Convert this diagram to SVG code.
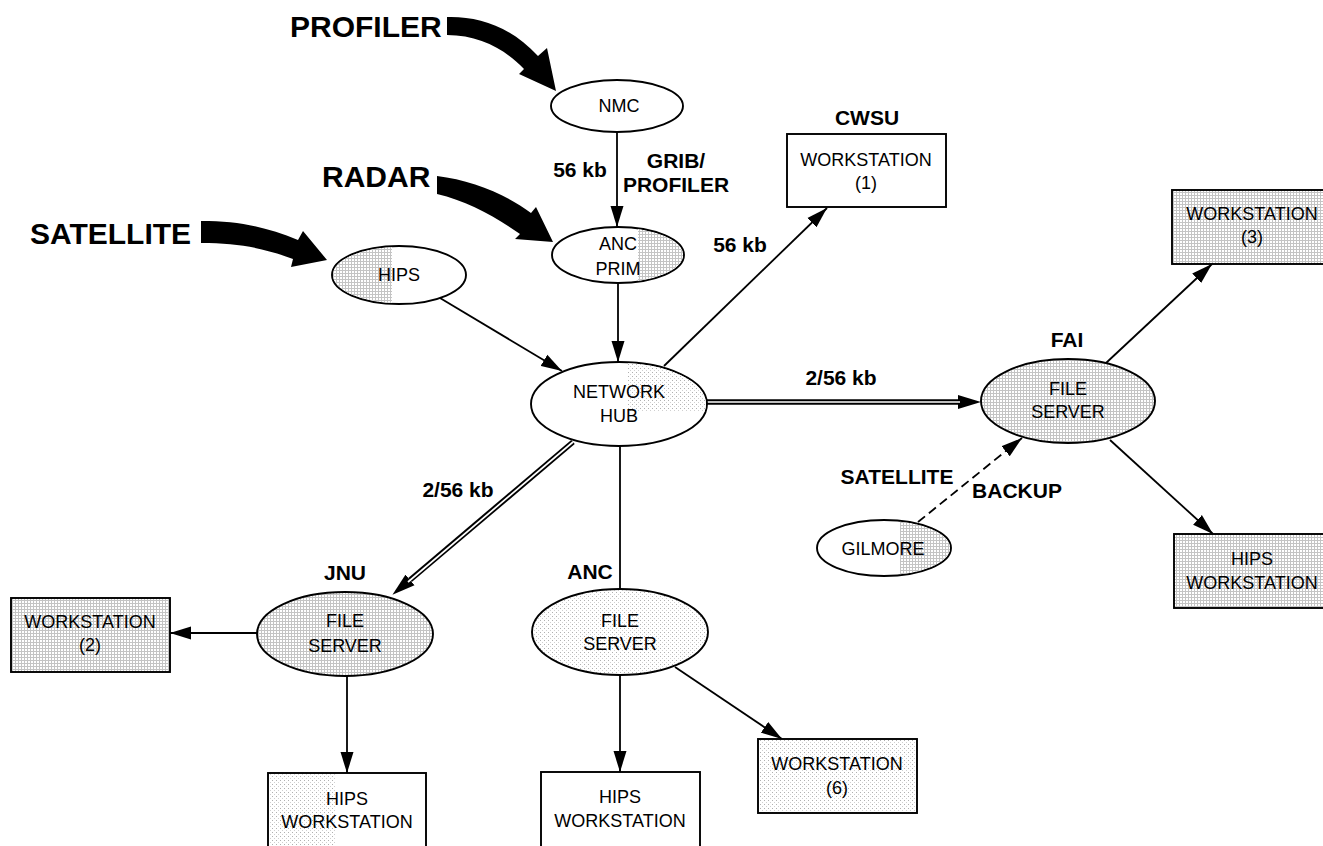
<svg xmlns="http://www.w3.org/2000/svg" width="1323" height="846" viewBox="0 0 1323 846">
<style>
  .nd { stroke:#000; stroke-width:1.9; fill:#fff; }
  .sh { fill:url(#dots); }
  .shl { fill:url(#dotsL); }
  .lbl { font-family:"Liberation Sans", Arial, sans-serif; font-size:18px; text-anchor:middle; fill:#000; }
  .bl { font-family:"Liberation Sans", Arial, sans-serif; font-size:21px; font-weight:bold; text-anchor:middle; fill:#000; }
  .big { font-family:"Liberation Sans", Arial, sans-serif; font-size:30px; font-weight:bold; fill:#000; }
  .cn { stroke:#000; stroke-width:1.8; fill:none; }
  .dbl { stroke:#000; stroke-width:5.5; fill:none; }
  .dblw { stroke:#fff; stroke-width:1.7; fill:none; }
</style>
<defs>
  <pattern id="dots" width="3" height="3" patternUnits="userSpaceOnUse">
    <rect width="3" height="3" fill="#fff"/>
    <rect width="3" height="1" fill="#c4c4c4"/>
    <rect width="1" height="3" fill="#c4c4c4"/>
  </pattern>
  <pattern id="dotsL" width="4" height="4" patternUnits="userSpaceOnUse">
    <rect width="4" height="4" fill="#fff"/>
    <rect width="1" height="1" fill="#b0b0b0"/>
    <rect x="2" y="2" width="1" height="1" fill="#d0d0d0"/>
  </pattern>
  <marker id="ah" markerUnits="userSpaceOnUse" markerWidth="22" markerHeight="14" refX="21" refY="7" orient="auto" viewBox="0 0 22 14">
    <path d="M0,0.5 L21,7 L0,13.5 z" fill="#000"/>
  </marker>
  <marker id="ahd" markerUnits="userSpaceOnUse" markerWidth="24" markerHeight="15" refX="0" refY="7.5" orient="auto" viewBox="0 0 24 15">
    <path d="M0,0.5 L23,7.5 L0,14.5 z" fill="#000"/>
  </marker>
  <clipPath id="cHips"><rect x="300" y="240" width="92" height="70"/></clipPath>
  <clipPath id="cPrim"><rect x="638" y="220" width="60" height="70"/></clipPath>
  <clipPath id="cHub"><rect x="628" y="355" width="90" height="57"/></clipPath>
  <clipPath id="cGil"><rect x="900" y="515" width="60" height="70"/></clipPath>
  <clipPath id="cJhw"><rect x="266" y="770" width="70" height="80"/></clipPath>
</defs>
<rect width="1323" height="846" fill="#fff"/>

<g id="src-profiler">
  <text class="big" x="290" y="37">PROFILER</text>
  <path d="M447,17 C478,16 510,26 538,56 L547,48 L556,91 L519,74 L524,69 C506,50 480,35 447,35 Z" fill="#000"/>
</g>
<g id="src-radar">
  <text class="big" x="322" y="187">RADAR</text>
  <path d="M437,176 C472,180 507,195 531,213 L536,207 L553,242 L515,239 L520,234 C494,216 467,201 437,194 Z" fill="#000"/>
</g>
<g id="src-satellite">
  <text class="big" x="30" y="244">SATELLITE</text>
  <path d="M201,221 C240,221 266,227 298,240 L303,231 L327,260 L291,267 L293,259 C264,248 238,243 201,243 Z" fill="#000"/>
</g>

<g id="connectors">
  <line class="cn" x1="617" y1="132" x2="617" y2="227" marker-end="url(#ah)"/>
  <line class="cn" x1="618" y1="283" x2="618" y2="362" marker-end="url(#ah)"/>
  <line class="cn" x1="440" y1="298" x2="562" y2="371" marker-end="url(#ah)"/>
  <line class="cn" x1="664" y1="366" x2="827" y2="208" marker-end="url(#ah)"/>
  <line class="cn" x1="620" y1="446" x2="620" y2="590"/>
  <line class="dbl" x1="707" y1="402" x2="958" y2="402" marker-end="url(#ahd)"/>
  <line class="dblw" x1="707" y1="402" x2="960" y2="402"/>
  <line class="dbl" x1="573" y1="442" x2="410" y2="580" marker-end="url(#ahd)"/>
  <line class="dblw" x1="573" y1="442" x2="408" y2="582"/>
  <line class="cn" x1="1106" y1="363" x2="1212" y2="264" marker-end="url(#ah)"/>
  <line class="cn" x1="1110" y1="440" x2="1213" y2="534" marker-end="url(#ah)"/>
  <line class="cn" x1="918" y1="522" x2="1022" y2="438" stroke-dasharray="9,5" marker-end="url(#ah)"/>
  <line class="cn" x1="257" y1="633" x2="170" y2="633" marker-end="url(#ah)"/>
  <line class="cn" x1="347" y1="676" x2="347" y2="773" marker-end="url(#ah)"/>
  <line class="cn" x1="620" y1="675" x2="620" y2="772" marker-end="url(#ah)"/>
  <line class="cn" x1="675" y1="667" x2="782" y2="739" marker-end="url(#ah)"/>
</g>

<g id="edge-labels">
  <text class="bl" x="580" y="177">56 kb</text>
  <text class="bl" x="676" y="168">GRIB/</text>
  <text class="bl" x="676" y="192">PROFILER</text>
  <text class="bl" x="740" y="252">56 kb</text>
  <text class="bl" x="841" y="385">2/56 kb</text>
  <text class="bl" x="458" y="497">2/56 kb</text>
  <text class="bl" x="897" y="484">SATELLITE</text>
  <text class="bl" x="1017" y="498">BACKUP</text>
</g>

<g id="nmc">
  <ellipse class="nd" cx="617" cy="106" rx="66" ry="26"/>
  <text class="lbl" x="619" y="112">NMC</text>
</g>
<g id="anc-prim">
  <ellipse class="nd" cx="618" cy="255" rx="66" ry="28"/>
  <ellipse class="sh" cx="618" cy="255" rx="65" ry="27" clip-path="url(#cPrim)"/>
  <text class="lbl" x="618" y="250">ANC</text>
  <text class="lbl" x="618" y="275">PRIM</text>
</g>
<g id="hips">
  <ellipse class="nd" cx="399" cy="275" rx="67" ry="29"/>
  <ellipse class="sh" cx="399" cy="275" rx="66" ry="28" clip-path="url(#cHips)"/>
  <text class="lbl" x="399" y="281">HIPS</text>
</g>
<g id="hub">
  <ellipse class="nd" cx="619" cy="404" rx="88" ry="42"/>
  <ellipse class="shl" cx="619" cy="404" rx="87" ry="41" clip-path="url(#cHub)"/>
  <text class="lbl" x="619" y="398">NETWORK</text>
  <text class="lbl" x="619" y="422">HUB</text>
</g>
<g id="cwsu">
  <text class="bl" x="867" y="125">CWSU</text>
  <rect class="nd" x="787" y="134" width="159" height="73"/>
  <text class="lbl" x="866" y="166">WORKSTATION</text>
  <text class="lbl" x="866" y="189">(1)</text>
</g>
<g id="ws3">
  <rect class="nd sh" x="1172" y="190" width="160" height="74"/>
  <text class="lbl" x="1252" y="220">WORKSTATION</text>
  <text class="lbl" x="1252" y="243">(3)</text>
</g>
<g id="fai">
  <text class="bl" x="1067" y="347">FAI</text>
  <ellipse class="nd sh" cx="1068" cy="401" rx="87" ry="42"/>
  <text class="lbl" x="1068" y="395">FILE</text>
  <text class="lbl" x="1068" y="418">SERVER</text>
</g>
<g id="gilmore">
  <ellipse class="nd" cx="884" cy="548" rx="67" ry="28"/>
  <ellipse class="sh" cx="884" cy="548" rx="66" ry="27" clip-path="url(#cGil)"/>
  <text class="lbl" x="883" y="555">GILMORE</text>
</g>
<g id="fai-hips-ws">
  <rect class="nd sh" x="1174" y="534" width="160" height="74"/>
  <text class="lbl" x="1252" y="565">HIPS</text>
  <text class="lbl" x="1252" y="589">WORKSTATION</text>
</g>
<g id="jnu">
  <text class="bl" x="345" y="580">JNU</text>
  <ellipse class="nd sh" cx="345" cy="634" rx="88" ry="42"/>
  <text class="lbl" x="345" y="627">FILE</text>
  <text class="lbl" x="345" y="652">SERVER</text>
</g>
<g id="ws2">
  <rect class="nd sh" x="11" y="598" width="159" height="74"/>
  <text class="lbl" x="90" y="628">WORKSTATION</text>
  <text class="lbl" x="90" y="651">(2)</text>
</g>
<g id="jnu-hips-ws">
  <rect class="nd" x="268" y="773" width="158" height="80"/>
  <rect class="shl" x="269" y="774" width="156" height="78" clip-path="url(#cJhw)"/>
  <text class="lbl" x="347" y="805">HIPS</text>
  <text class="lbl" x="347" y="828">WORKSTATION</text>
</g>
<g id="anc">
  <text class="bl" x="590" y="579">ANC</text>
  <ellipse class="nd shl" cx="620" cy="632" rx="88" ry="43"/>
  <text class="lbl" x="620" y="627">FILE</text>
  <text class="lbl" x="620" y="650">SERVER</text>
</g>
<g id="anc-hips-ws">
  <rect class="nd" x="541" y="772" width="159" height="80"/>
  <text class="lbl" x="620" y="803">HIPS</text>
  <text class="lbl" x="620" y="827">WORKSTATION</text>
</g>
<g id="ws6">
  <rect class="nd shl" x="758" y="739" width="159" height="74"/>
  <text class="lbl" x="837" y="770">WORKSTATION</text>
  <text class="lbl" x="837" y="794">(6)</text>
</g>
</svg>
